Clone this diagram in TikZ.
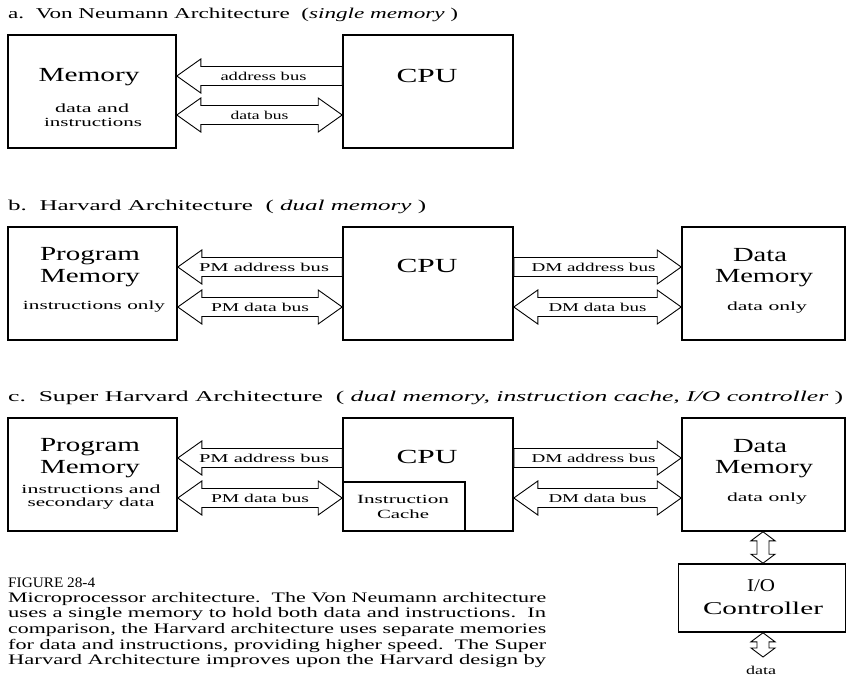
\documentclass[tikz,border=0pt]{standalone}
\usepackage{graphicx}
\usepackage{fontspec}
\setmainfont{Liberation Serif}
\usetikzlibrary{calc}
\newsavebox\fitbx
\newcommand\fitw[2]{\sbox\fitbx{#2}\pgfmathsetmacro\fitr{#1/\the\wd\fitbx}\scalebox{\fitr}[1]{\usebox\fitbx}}
\newcommand\szBig{\fontsize{20}{22}\selectfont}
\newcommand\szMid{\fontsize{18}{20}\selectfont}
\newcommand\szTit{\fontsize{15}{17}\selectfont}
\newcommand\szCap{\fontsize{14.5}{16}\selectfont}
\newcommand\szSm{\fontsize{12.5}{14}\selectfont}
\newcommand\szBus{\fontsize{12}{13}\selectfont}
\def\hl{24pt}\def\hh{17pt}\def\bh{9.5pt}
% arrow pointing left: tip at #1.east, body to #2.west, at y=#3
\newcommand\busL[6]{%
\draw[bus] let \p1=(#1.east), \p2=(#2.west), \p3=(0,#3) in
 (\x1,\y3) -- (\x1+\hl,\y3+\hh) -- (\x1+\hl,\y3+\bh) -- (\x2,\y3+\bh) -- (\x2,\y3-\bh) -- (\x1+\hl,\y3-\bh) -- (\x1+\hl,\y3-\hh) -- cycle
 ({0.5*\x1+0.5*\x2+4pt},\y3) node[lbl] (#6) {\szBus\fitw{#5}{#4}};}
% arrow pointing right
\newcommand\busR[6]{%
\draw[bus] let \p1=(#1.east), \p2=(#2.west), \p3=(0,#3) in
 (\x2,\y3) -- (\x2-\hl,\y3+\hh) -- (\x2-\hl,\y3+\bh) -- (\x1,\y3+\bh) -- (\x1,\y3-\bh) -- (\x2-\hl,\y3-\bh) -- (\x2-\hl,\y3-\hh) -- cycle
 ({0.5*\x1+0.5*\x2-4pt},\y3) node[lbl] (#6) {\szBus\fitw{#5}{#4}};}
% double arrow
\newcommand\busD[6]{%
\draw[bus] let \p1=(#1.east), \p2=(#2.west), \p3=(0,#3) in
 (\x1,\y3) -- (\x1+\hl,\y3+\hh) -- (\x1+\hl,\y3+\bh) -- (\x2-\hl,\y3+\bh) -- (\x2-\hl,\y3+\hh) -- (\x2,\y3)
 -- (\x2-\hl,\y3-\hh) -- (\x2-\hl,\y3-\bh) -- (\x1+\hl,\y3-\bh) -- (\x1+\hl,\y3-\hh) -- cycle
 ({0.5*\x1+0.5*\x2},\y3) node[lbl] (#6) {\szBus\fitw{#5}{#4}};}
% small vertical double arrow between #1 (top) and #2 (bottom) at x=#3
\newcommand\busV[3]{%
\draw[bus] let \p1=(#1), \p2=(#2), \p3=(#3,0) in
 (\x3,\y1) -- (\x3+12pt,\y1-9pt) -- (\x3+6pt,\y1-9pt) -- (\x3+6pt,\y2+9pt) -- (\x3+12pt,\y2+9pt) -- (\x3,\y2)
 -- (\x3-12pt,\y2+9pt) -- (\x3-6pt,\y2+9pt) -- (\x3-6pt,\y1-9pt) -- (\x3-12pt,\y1-9pt) -- cycle;}
\begin{document}
\begin{tikzpicture}[x=1pt,y=-1pt,
  box/.style={draw, line width=1.6pt, inner sep=0pt},
  bus/.style={draw, fill=white, line width=0.9pt, line join=miter},
  lbl/.style={inner sep=0pt, anchor=center},
  lblw/.style={inner sep=0pt, anchor=west}]
\useasboundingbox[fill=white] (0,0) rectangle (846,679);

% ---------------- panel a
\node[lblw] (tita) at (8,15) {\szTit\fitw{450}{a.\ \ Von Neumann Architecture\ \ (\textit{single memory} )}};
\node[box, minimum width=168pt, minimum height=113pt] (mema) at (92,91.5) {};
\node[box, minimum width=170pt, minimum height=113pt] (cpua) at (428,91.5) {};
\node[lbl] (tmema) at (89,77) {\szBig\fitw{101}{Memory}};
\node[lbl] (tmema2) at (92,108) {\szSm\fitw{74}{data and}};
\node[lbl] (tmema3) at (93,122) {\szSm\fitw{98}{instructions}};
\node[lbl] (tcpua) at (427,76) {\szBig\fitw{61}{CPU}};
\busL{mema}{cpua}{76}{address bus}{86}{abusa}
\busD{mema}{cpua}{115}{data bus}{58}{dbusa}

% ---------------- panel b
\node[lblw] (titb) at (8,207) {\szTit\fitw{418}{b.\ \ Harvard Architecture\ \ ( \textit{dual memory} )}};
\node[box, minimum width=169pt, minimum height=113pt] (pmb) at (92.5,283.5) {};
\node[box, minimum width=170pt, minimum height=113pt] (cpub) at (428,283.5) {};
\node[box, minimum width=163pt, minimum height=113pt] (dmb) at (763.5,283.5) {};
\node[lbl] (tpmb1) at (90,256) {\szBig\fitw{100}{Program}};
\node[lbl] (tpmb2) at (90,278) {\szBig\fitw{100}{Memory}};
\node[lbl] (tpmb3) at (94,307) {\szSm\fitw{142}{instructions only}};
\node[lbl] (tcpub) at (427,266) {\szBig\fitw{61}{CPU}};
\node[lbl] (tdmb1) at (760,255) {\szBig\fitw{54}{Data}};
\node[lbl] (tdmb2) at (764,278) {\szBig\fitw{98}{Memory}};
\node[lbl] (tdmb3) at (767,308) {\szSm\fitw{80}{data only}};
\busL{pmb}{cpub}{267}{PM address bus}{130}{pmab}
\busD{pmb}{cpub}{307}{PM data bus}{98}{pmdb}
\busR{cpub}{dmb}{267}{DM address bus}{124}{dmab}
\busD{cpub}{dmb}{307}{DM data bus}{98}{dmdb}

% ---------------- panel c
\node[lblw] (titc) at (8,398) {\szTit\fitw{835}{c.\ \ Super Harvard Architecture\ \ ( \textit{dual memory, instruction cache, I/O controller} )}};
\node[box, minimum width=169pt, minimum height=113pt] (pmc) at (92.5,474.5) {};
\node[box, minimum width=170pt, minimum height=113pt] (cpuc) at (428,474.5) {};
\node[box, minimum width=163pt, minimum height=113pt] (dmc) at (763.5,474.5) {};
\node[box, line width=1.2pt, minimum width=122pt, minimum height=49pt] (cache) at (404,506.5) {};
\node[lbl] (tpmc1) at (90,447) {\szBig\fitw{100}{Program}};
\node[lbl] (tpmc2) at (90,469) {\szBig\fitw{100}{Memory}};
\node[lbl] (tpmc3) at (91,489) {\szSm\fitw{139}{instructions and}};
\node[lbl] (tpmc4) at (91,504) {\szSm\fitw{127}{secondary data}};
\node[lbl] (tcpuc) at (427,457) {\szBig\fitw{61}{CPU}};
\node[lbl] (tcache1) at (403,499) {\szSm\fitw{92}{Instruction}};
\node[lbl] (tcache2) at (403,514) {\szSm\fitw{52}{Cache}};
\node[lbl] (tdmc1) at (760,446) {\szBig\fitw{54}{Data}};
\node[lbl] (tdmc2) at (764,469) {\szBig\fitw{98}{Memory}};
\node[lbl] (tdmc3) at (767,499) {\szSm\fitw{80}{data only}};
\busL{pmc}{cpuc}{458}{PM address bus}{130}{pmac}
\busD{pmc}{cpuc}{498}{PM data bus}{98}{pmdc}
\busR{cpuc}{dmc}{458}{DM address bus}{124}{dmac}
\busD{cpuc}{dmc}{498}{DM data bus}{98}{dmdc}

% I/O controller
\node[box, minimum width=167pt, minimum height=68pt] (ioc) at (762,598) {};
\node[lbl] (tioc1) at (761,586) {\szMid\fitw{28}{I/O}};
\node[lbl] (tioc2) at (763,608) {\szMid\fitw{120}{Controller}};
\busV{dmc.south}{ioc.north}{763}
\coordinate (dataend) at (763,657);
\busV{ioc.south}{dataend}{763}
\node[lbl] (tdata) at (761,670) {\szBus\fitw{30}{data}};

% caption
\node[lblw] (cap0) at (8,583) {\szCap\fitw{87}{FIGURE 28-4}};
\node[lblw] (cap1) at (8,599) {\szCap\fitw{538}{Microprocessor architecture.\ \ The Von Neumann architecture}};
\node[lblw] (cap2) at (8,614.5) {\szCap\fitw{538}{uses a single memory to hold both data and instructions.\ \ In}};
\node[lblw] (cap3) at (8,630) {\szCap\fitw{538}{comparison, the Harvard architecture uses separate memories}};
\node[lblw] (cap4) at (8,645.5) {\szCap\fitw{538}{for data and instructions, providing higher speed.\ \ The Super}};
\node[lblw] (cap5) at (8,661) {\szCap\fitw{538}{Harvard Architecture improves upon the Harvard design by}};
\end{tikzpicture}
\end{document}
